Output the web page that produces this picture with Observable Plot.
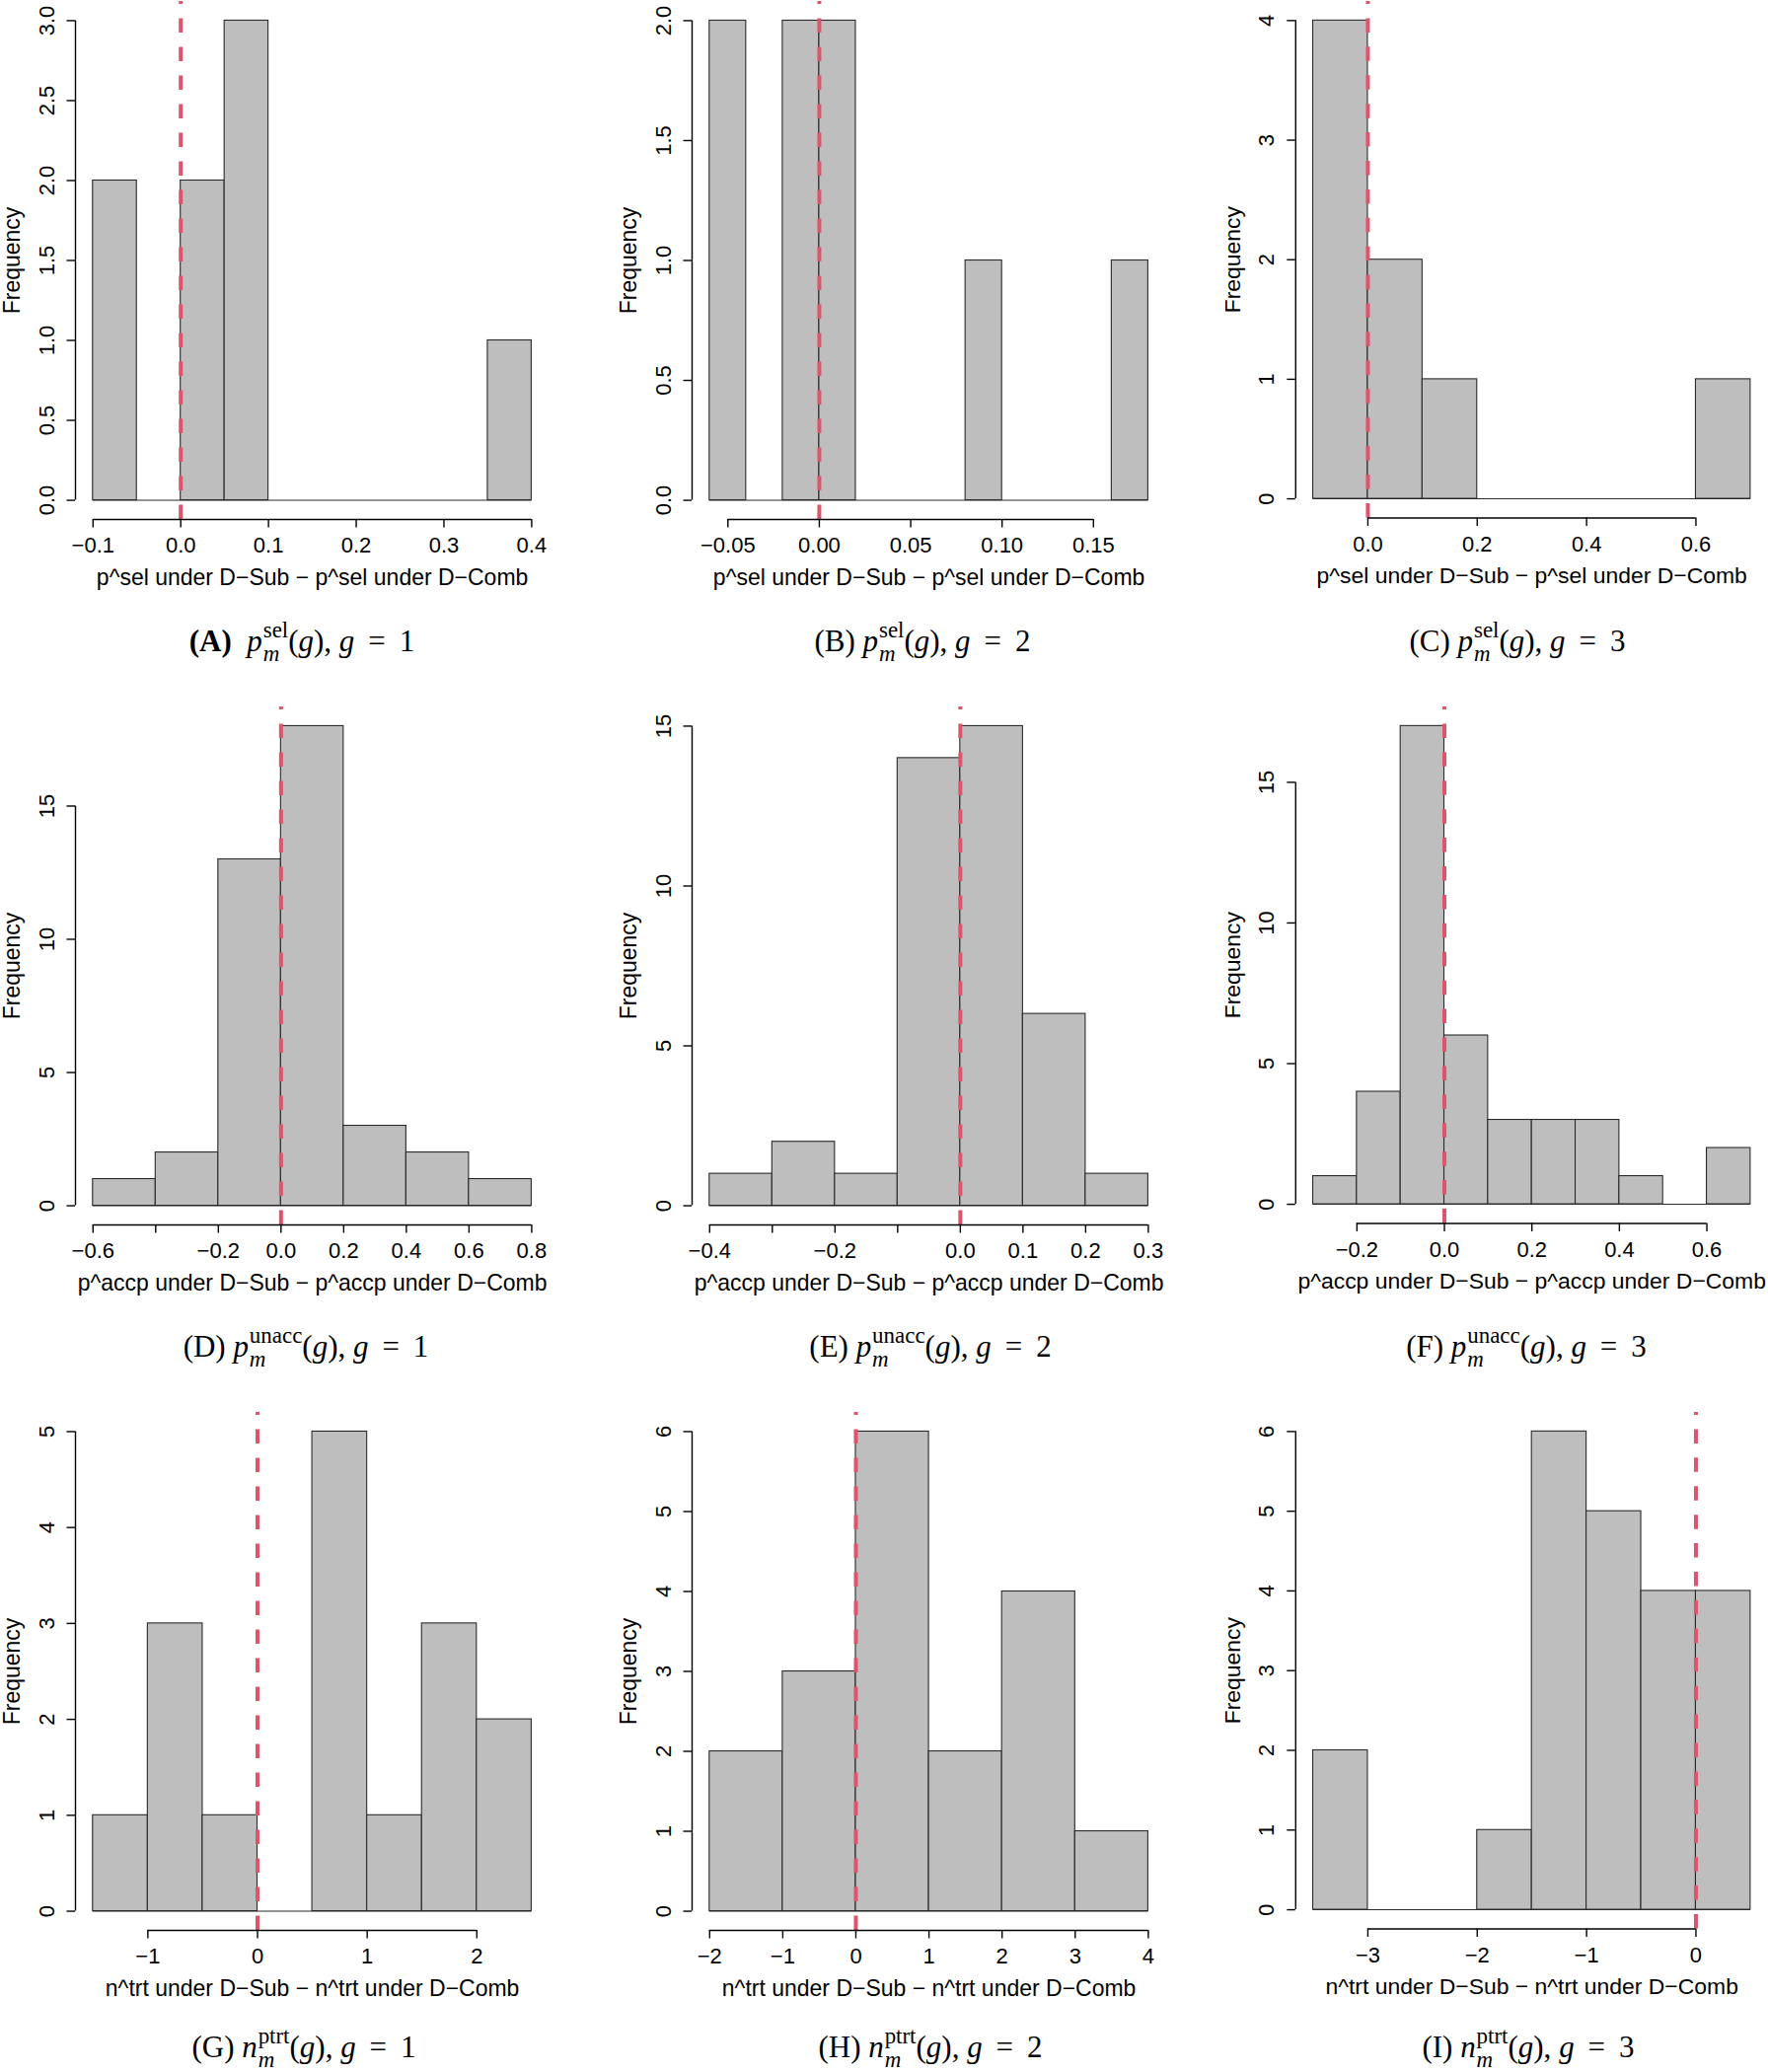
<!DOCTYPE html>
<html><head><meta charset="utf-8">
<script src="https://cdn.jsdelivr.net/npm/d3@7"></script>
<script src="https://cdn.jsdelivr.net/npm/@observablehq/plot@0.6"></script>
<style>
html,body{margin:0;padding:0;background:#fff;overflow:hidden;}
#fig{position:relative;width:1792px;height:2100px;overflow:hidden;}
.panel{position:absolute;}
.panel svg{overflow:visible;}
.cap{position:absolute;transform:translateX(-50%);white-space:nowrap;font-family:"Liberation Serif","Times New Roman",serif;font-size:31px;line-height:32px;color:#000;}
.ss{display:inline-block;font-size:0.74em;line-height:1.05;vertical-align:-0.42em;margin-left:0.04em;}
.ss span{display:block;}
</style></head><body><div id="fig"></div>
<script>
// ---------- data ----------
const labelsPanel = ["A","B","C","D","E","F","G","H","I"];

const breaksA = [-0.1,-0.05,0,0.05,0.1,0.15,0.2,0.25,0.3,0.35,0.4];
const countsA = [2,0,2,3,0,0,0,0,0,1];
const breaksB = [-0.06,-0.04,-0.02,0,0.02,0.04,0.06,0.08,0.1,0.12,0.14,0.16,0.18];
const countsB = [2,0,2,2,0,0,0,1,0,0,0,1];
const breaksC = [-0.1,0,0.1,0.2,0.3,0.4,0.5,0.6,0.7];
const countsC = [4,2,1,0,0,0,0,1];
const breaksD = [-0.6,-0.4,-0.2,0,0.2,0.4,0.6,0.8];
const countsD = [1,2,13,18,3,2,1];
const breaksE = [-0.4,-0.3,-0.2,-0.1,0,0.1,0.2,0.3];
const countsE = [1,2,1,14,15,6,1];
const breaksF = [-0.3,-0.2,-0.1,0,0.1,0.2,0.3,0.4,0.5,0.6,0.7];
const countsF = [1,4,17,6,3,3,3,1,0,2];
const breaksG = [-1.5,-1,-0.5,0,0.5,1,1.5,2,2.5];
const countsG = [1,3,1,0,5,1,3,2];
const breaksH = [-2,-1,0,1,2,3,4];
const countsH = [2,3,6,2,4,1];
const breaksI = [-3.5,-3,-2.5,-2,-1.5,-1,-0.5,0,0.5];
const countsI = [2,0,0,1,6,5,4,4];

const xTicksA = [-0.1,0,0.1,0.2,0.3,0.4];
const xTickLabelsA = ["\u22120.1","0.0","0.1","0.2","0.3","0.4"];
const xTicksB = [-0.05,0,0.05,0.1,0.15];
const xTickLabelsB = ["\u22120.05","0.00","0.05","0.10","0.15"];
const xTicksC = [0,0.2,0.4,0.6];
const xTickLabelsC = ["0.0","0.2","0.4","0.6"];
const xTicksD = [-0.6,-0.4,-0.2,0,0.2,0.4,0.6,0.8];
const xTickLabelsD = ["\u22120.6","","\u22120.2","0.0","0.2","0.4","0.6","0.8"];
const xTicksE = [-0.4,-0.3,-0.2,-0.1,0,0.1,0.2,0.3];
const xTickLabelsE = ["\u22120.4","","\u22120.2","","0.0","0.1","0.2","0.3"];
const xTicksF = [-0.2,0,0.2,0.4,0.6];
const xTickLabelsF = ["\u22120.2","0.0","0.2","0.4","0.6"];
const xTicksG = [-1,0,1,2];
const xTickLabelsG = ["\u22121","0","1","2"];
const xTicksH = [-2,-1,0,1,2,3,4];
const xTickLabelsH = ["\u22122","\u22121","0","1","2","3","4"];
const xTicksI = [-3,-2,-1,0];
const xTickLabelsI = ["\u22123","\u22122","\u22121","0"];

const yTicksA = [0,0.5,1,1.5,2,2.5,3];
const yTickLabelsA = ["0.0","0.5","1.0","1.5","2.0","2.5","3.0"];
const yTicksB = [0,0.5,1,1.5,2];
const yTickLabelsB = ["0.0","0.5","1.0","1.5","2.0"];
const yTicksC = [0,1,2,3,4];
const yTickLabelsC = ["0","1","2","3","4"];
const yTicksDEF = [0,5,10,15];
const yTickLabelsDEF = ["0","5","10","15"];
const yTicksG = [0,1,2,3,4,5];
const yTickLabelsG = ["0","1","2","3","4","5"];
const yTicksHI = [0,1,2,3,4,5,6];
const yTickLabelsHI = ["0","1","2","3","4","5","6"];

const xTitleSel = "p^sel under D\u2212Sub \u2212 p^sel under D\u2212Comb";
const xTitleAccp = "p^accp under D\u2212Sub \u2212 p^accp under D\u2212Comb";
const xTitleTrt = "n^trt under D\u2212Sub \u2212 n^trt under D\u2212Comb";
const yTitle = "Frequency";

const capSymbols = ["p","p","p","p","p","p","n","n","n"];
const capSups = ["sel","sel","sel","unacc","unacc","unacc","ptrt","ptrt","ptrt"];
const capGroups = ["1","2","3","1","2","3","1","2","3"];

// ---------- layout ----------
const colLeft = [76, 701.4, 1313.4];
const rowTop = [0.7, 715.8, 1431];
const capTop = [626, 626, 621];
const RW = 480.2, RH = 525;
const ML = 76, MT = 10, MB = 90, MR = 0;
const capCenter = [306, 935, 1538, 310, 943, 1547, 308, 943, 1549];

const panels = [
  {breaks: breaksA, counts: countsA, xTicks: xTicksA, xTickLabels: xTickLabelsA, yTicks: yTicksA, yTickLabels: yTickLabelsA, xlab: xTitleSel},
  {breaks: breaksB, counts: countsB, xTicks: xTicksB, xTickLabels: xTickLabelsB, yTicks: yTicksB, yTickLabels: yTickLabelsB, xlab: xTitleSel},
  {breaks: breaksC, counts: countsC, xTicks: xTicksC, xTickLabels: xTickLabelsC, yTicks: yTicksC, yTickLabels: yTickLabelsC, xlab: xTitleSel},
  {breaks: breaksD, counts: countsD, xTicks: xTicksD, xTickLabels: xTickLabelsD, yTicks: yTicksDEF, yTickLabels: yTickLabelsDEF, xlab: xTitleAccp},
  {breaks: breaksE, counts: countsE, xTicks: xTicksE, xTickLabels: xTickLabelsE, yTicks: yTicksDEF, yTickLabels: yTickLabelsDEF, xlab: xTitleAccp},
  {breaks: breaksF, counts: countsF, xTicks: xTicksF, xTickLabels: xTickLabelsF, yTicks: yTicksDEF, yTickLabels: yTickLabelsDEF, xlab: xTitleAccp},
  {breaks: breaksG, counts: countsG, xTicks: xTicksG, xTickLabels: xTickLabelsG, yTicks: yTicksG, yTickLabels: yTickLabelsG, xlab: xTitleTrt},
  {breaks: breaksH, counts: countsH, xTicks: xTicksH, xTickLabels: xTickLabelsH, yTicks: yTicksHI, yTickLabels: yTickLabelsHI, xlab: xTitleTrt},
  {breaks: breaksI, counts: countsI, xTicks: xTicksI, xTickLabels: xTickLabelsI, yTicks: yTicksHI, yTickLabels: yTickLabelsHI, xlab: xTitleTrt}
];

const SANS = "'Liberation Sans', Arial, Helvetica, sans-serif";
const fig = document.getElementById("fig");

panels.forEach((p, k) => {
  const r = Math.floor(k / 3), c = k % 3;
  const lo = p.breaks[0], hi = p.breaks[p.breaks.length - 1];
  const pad = 0.04 * (hi - lo);
  const ymax = d3.max(p.counts);
  const ypad = 0.04 * ymax;
  const bins = p.counts.map((v, i) => ({x1: p.breaks[i], x2: p.breaks[i + 1], c: v})).filter(d => d.c > 0);
  const xLab = new Map(p.xTicks.map((t, i) => [t, p.xTickLabels[i]]));
  const yLab = new Map(p.yTicks.map((t, i) => [t, p.yTickLabels[i]]));

  const chart = Plot.plot({
    width: ML + RW + MR, height: MT + RH + MB,
    marginLeft: ML, marginRight: MR, marginTop: MT, marginBottom: MB,
    x: {domain: [lo - pad, hi + pad], axis: null, label: null},
    y: {domain: [-ypad, ymax + ypad], axis: null, label: null},
    style: {fontFamily: SANS, fontSize: "22px", color: "#000", background: "transparent", overflow: "visible"},
    marks: [
      Plot.rect(bins, {x1: "x1", x2: "x2", y1: 0, y2: "c", fill: "#BEBEBE", stroke: "#2a2a2a", strokeWidth: 1.1}),
      Plot.ruleY([0], {x1: lo, x2: hi, stroke: "#2a2a2a", strokeWidth: 1.1}),
      Plot.ruleX([0], {y1: -ypad, y2: ymax + ypad, stroke: "#DF536B", strokeWidth: 4, strokeDasharray: "14.5,14.5"}),
      Plot.ruleX([lo - pad], {y1: p.yTicks[0], y2: p.yTicks[p.yTicks.length - 1], stroke: "#000", strokeWidth: 1.4}),
      Plot.ruleY([-ypad], {x1: p.xTicks[0], x2: p.xTicks[p.xTicks.length - 1], stroke: "#000", strokeWidth: 1.4}),
      Plot.axisY({ticks: p.yTicks, tickSize: 8.5, tickFormat: () => "", strokeWidth: 1.4, label: null}),
      Plot.axisX({ticks: p.xTicks, tickSize: 8.5, tickPadding: 9.7, tickFormat: d => xLab.get(d), fontSize: 22, strokeWidth: 1.4, label: null}),
      Plot.text(p.yTicks, {y: d => d, frameAnchor: "left", dx: -29, rotate: -90, text: d => yLab.get(d), fontSize: 22, lineAnchor: "middle", textAnchor: "middle"}),
      Plot.text([yTitle], {frameAnchor: "left", dx: -64, rotate: -90, text: d => d, fontSize: 23, lineAnchor: "middle", textAnchor: "middle"}),
      Plot.text([p.xlab], {frameAnchor: "bottom", dy: 59, text: d => d, fontSize: 23, lineAnchor: "middle", textAnchor: "middle"})
    ]
  });
  const wrap = document.createElement("div");
  wrap.className = "panel";
  wrap.style.left = (colLeft[c] - ML) + "px";
  wrap.style.top = (rowTop[r] - MT) + "px";
  wrap.appendChild(chart);
  fig.appendChild(wrap);

  const cap = document.createElement("div");
  cap.className = "cap";
  cap.style.left = capCenter[k] + "px";
  cap.style.top = (rowTop[r] + capTop[r]) + "px";
  const lab = k === 0 ? `<b>(${labelsPanel[k]})</b>&ensp;` : `(${labelsPanel[k]}) `;
  cap.innerHTML = `${lab}<i>${capSymbols[k]}</i><span class="ss"><span>${capSups[k]}</span><span><i>m</i></span></span>(<i>g</i>), <i>g</i>&nbsp;&thinsp;=&thinsp;&nbsp;${capGroups[k]}`;
  fig.appendChild(cap);
});
</script>
</body></html>
